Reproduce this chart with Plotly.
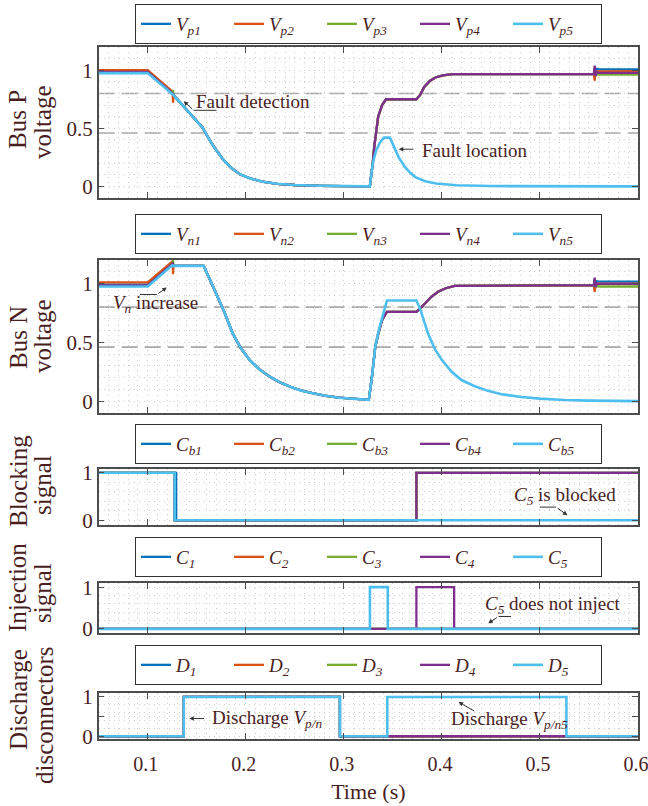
import plotly.graph_objects as go

W, H = 648, 806
TEXT = "#4a1e1e"
AXIS = "#4d4d4d"
GRID = "#cfcfcf"
SERIF = "Liberation Serif"
COLORS = ["#0072BD", "#D95319", "#77AC30", "#7E2F8E", "#4DBEEE"]

# ---------------- Bus P voltage (p.u.) ----------------
vp_pre_t = [0.050, 0.100, 0.1255]
vp1_pre = [0.990, 0.990, 0.805]
vp2_pre = [1.000, 1.000, 0.815]
vp3_pre = [0.980, 0.980, 0.800]
vp4_pre = [0.985, 0.985, 0.800]
vp5_pre = [0.975, 0.975, 0.792]

vp_det_t = [0.1258, 0.1263]
vp1_det = [0.800, 0.790]
vp2_det = [0.720, 0.785]
vp3_det = [0.830, 0.790]
vp4_det = [0.795, 0.785]
vp5_det = [0.788, 0.782]

vp_fault_t = [0.1270, 0.156, 0.163, 0.170, 0.177, 0.185, 0.194, 0.204, 0.217, 0.232, 0.250, 0.275, 0.300, 0.3265]
vp_fault = [0.780, 0.505, 0.400, 0.310, 0.230, 0.160, 0.105, 0.070, 0.040, 0.022, 0.012, 0.005, 0.002, 0.000]

vp_rec_t = [0.3295, 0.331, 0.335, 0.339, 0.343, 0.374, 0.378, 0.382, 0.388, 0.394, 0.401, 0.411, 0.5550]
vp_rec = [0.20, 0.34, 0.60, 0.70, 0.75, 0.75, 0.79, 0.856, 0.91, 0.94, 0.955, 0.967, 0.967]

vp_end_t = [0.5558, 0.5568, 0.5580, 0.5600, 0.6000]
vp1_end = [1.020, 0.985, 1.012, 1.008, 1.008]
vp2_end = [0.910, 0.990, 0.990, 0.993, 0.993]
vp3_end = [1.000, 0.950, 0.968, 0.963, 0.963]
vp4_end = [1.040, 0.950, 0.985, 0.978, 0.978]

vp5_rec_t = [0.3295, 0.333, 0.337, 0.341, 0.347, 0.352, 0.356, 0.362, 0.368, 0.373, 0.383, 0.394, 0.415, 0.450, 0.600]
vp5_rec = [0.20, 0.31, 0.38, 0.42, 0.42, 0.33, 0.25, 0.17, 0.115, 0.08, 0.045, 0.025, 0.010, 0.003, 0.000]

# ---------------- Bus N voltage (p.u.) ----------------
vn_pre_t = [0.050, 0.100, 0.1255]
vn1_pre = [0.990, 0.990, 1.175]
vn2_pre = [1.010, 1.010, 1.190]
vn3_pre = [0.980, 0.980, 1.170]
vn4_pre = [0.985, 0.985, 1.170]
vn5_pre = [0.975, 0.975, 1.160]

vn_det_t = [0.1258, 0.1263]
vn1_det = [1.170, 1.150]
vn2_det = [1.080, 1.150]
vn3_det = [1.200, 1.160]
vn4_det = [1.165, 1.150]
vn5_det = [1.140, 1.150]

vn_fault_t = [0.1275, 0.157, 0.162, 0.170, 0.178, 0.187, 0.195, 0.204, 0.214, 0.225, 0.235, 0.246, 0.257, 0.267, 0.280, 0.295, 0.310, 0.3255]
vn_fault = [1.150, 1.150, 1.060, 0.910, 0.760, 0.570, 0.450, 0.350, 0.270, 0.206, 0.160, 0.121, 0.090, 0.070, 0.048, 0.030, 0.020, 0.012]

vn_rec_t = [0.3287, 0.332, 0.335, 0.339, 0.344, 0.374, 0.378, 0.383, 0.389, 0.396, 0.404, 0.413, 0.5550]
vn_rec = [0.21, 0.46, 0.57, 0.69, 0.76, 0.76, 0.79, 0.83, 0.885, 0.93, 0.96, 0.98, 0.987]

vn_end_t = [0.5558, 0.5568, 0.5580, 0.5600, 0.6000]
vn1_end = [1.040, 1.000, 1.020, 1.017, 1.017]
vn2_end = [0.930, 1.000, 0.995, 1.000, 1.000]
vn3_end = [1.010, 0.965, 0.978, 0.975, 0.975]
vn4_end = [1.050, 0.970, 1.000, 0.997, 0.997]

vn5_rec_t = [0.3287, 0.332, 0.3355, 0.339, 0.3415, 0.344, 0.374, 0.378, 0.386, 0.393, 0.400, 0.410, 0.420, 0.433, 0.447, 0.462, 0.481, 0.500, 0.525, 0.550, 0.600]
vn5_rec = [0.21, 0.46, 0.60, 0.71, 0.79, 0.856, 0.856, 0.78, 0.57, 0.44, 0.35, 0.25, 0.18, 0.13, 0.088, 0.058, 0.036, 0.022, 0.011, 0.005, 0.001]

# ---------------- Converter blocking signals ----------------
cb_t = [0.050, 0.1275, 0.1275, 0.374, 0.374, 0.600]
cb1_t = [0.050, 0.1290, 0.1290, 0.374, 0.374, 0.600]
cb_healthy = [1, 1, 0, 0, 1, 1]
cb5_t = [0.050, 0.1275, 0.1275, 0.600]
cb5 = [1, 1, 0, 0]

# ---------------- Injection signals ----------------
c_idle_t = [0.050, 0.600]
c_idle = [0, 0]
c4_t = [0.050, 0.374, 0.374, 0.4125, 0.4125, 0.600]
c4 = [0, 0, 1, 1, 0, 0]
c5_t = [0.050, 0.3266, 0.3266, 0.3448, 0.3448, 0.600]
c5 = [0, 0, 1, 1, 0, 0]

# ---------------- Discharge disconnectors ----------------
d_t = [0.050, 0.1368, 0.1368, 0.296, 0.296, 0.600]
d_healthy = [0, 0, 1, 1, 0, 0]
d5_t = [0.050, 0.1368, 0.1368, 0.296, 0.296, 0.3443, 0.3443, 0.527, 0.527, 0.600]
d5 = [0, 0, 1, 1, 0, 0, 1, 1, 0, 0]

# Detection thresholds on the bus voltages
vp_thresholds = [0.80, 0.46]
vn_thresholds = [0.80, 0.46]

# Time axis ticks
time_ticks = [0.1, 0.2, 0.3, 0.4, 0.5, 0.6]
time_labels = ["0.1", "0.2", "0.3", "0.4", "0.5", "0.6"]


def series(*parts):
    ts, vs = [], []
    for t, v in parts:
        ts += t
        vs += v
    return ts, vs


bus_p = [
    series((vp_pre_t, vp1_pre), (vp_det_t, vp1_det), (vp_fault_t, vp_fault), (vp_rec_t, vp_rec), (vp_end_t, vp1_end)),
    series((vp_pre_t, vp2_pre), (vp_det_t, vp2_det), (vp_fault_t, vp_fault), (vp_rec_t, vp_rec), (vp_end_t, vp2_end)),
    series((vp_pre_t, vp3_pre), (vp_det_t, vp3_det), (vp_fault_t, vp_fault), (vp_rec_t, vp_rec), (vp_end_t, vp3_end)),
    series((vp_pre_t, vp4_pre), (vp_det_t, vp4_det), (vp_fault_t, vp_fault), (vp_rec_t, vp_rec), (vp_end_t, vp4_end)),
    series((vp_pre_t, vp5_pre), (vp_det_t, vp5_det), (vp_fault_t, vp_fault), (vp5_rec_t, vp5_rec)),
]
bus_n = [
    series((vn_pre_t, vn1_pre), (vn_det_t, vn1_det), (vn_fault_t, vn_fault), (vn_rec_t, vn_rec), (vn_end_t, vn1_end)),
    series((vn_pre_t, vn2_pre), (vn_det_t, vn2_det), (vn_fault_t, vn_fault), (vn_rec_t, vn_rec), (vn_end_t, vn2_end)),
    series((vn_pre_t, vn3_pre), (vn_det_t, vn3_det), (vn_fault_t, vn_fault), (vn_rec_t, vn_rec), (vn_end_t, vn3_end)),
    series((vn_pre_t, vn4_pre), (vn_det_t, vn4_det), (vn_fault_t, vn_fault), (vn_rec_t, vn_rec), (vn_end_t, vn4_end)),
    series((vn_pre_t, vn5_pre), (vn_det_t, vn5_det), (vn_fault_t, vn_fault), (vn5_rec_t, vn5_rec)),
]
blocking = [(cb1_t, cb_healthy), (cb_t, cb_healthy), (cb_t, cb_healthy), (cb_t, cb_healthy), (cb5_t, cb5)]
injection = [(c_idle_t, c_idle), (c_idle_t, c_idle), (c_idle_t, c_idle), (c4_t, c4), (c5_t, c5)]
discharge = [(d_t, d_healthy), (d_t, d_healthy), (d_t, d_healthy), (d_t, d_healthy), (d5_t, d5)]

labels = [
    ["<i>V<sub>p%d</sub></i>" % k for k in range(1, 6)],
    ["<i>V<sub>n%d</sub></i>" % k for k in range(1, 6)],
    ["<i>C<sub>b%d</sub></i>" % k for k in range(1, 6)],
    ["<i>C<sub>%d</sub></i>" % k for k in range(1, 6)],
    ["<i>D<sub>%d</sub></i>" % k for k in range(1, 6)],
]
panel_data = [bus_p, bus_n, blocking, injection, discharge]

# Layout geometry in pixels (top, bottom) of each axes box
panel_px = [(47, 198), (260, 413), (469, 525), (583, 633), (693, 739)]
legend_top_px = [4, 214, 424, 537, 645]
y_ranges = [[-0.1, 1.2], [-0.1, 1.2], [-0.1, 1.08], [-0.1, 1.1], [-0.07, 1.1]]
y_ticks = [([0, 0.5, 1], ["0", "0.5", "1"]), ([0, 0.5, 1], ["0", "0.5", "1"]),
           ([0, 1], ["0", "1"]), ([0, 1], ["0", "1"]), ([0, 0.5, 1], ["0", "", "1"])]
y_minor = [0.1, 0.1, 0.2, 0.2, 0.2]
x_dom = [98.7 / W, 638.0 / W]

fig = go.Figure()

for p, (data, names) in enumerate(zip(panel_data, labels)):
    k = p + 1
    sfx = "" if k == 1 else str(k)
    for i, ((t, v), name) in enumerate(zip(data, names)):
        fig.add_trace(go.Scatter(
            x=t, y=v, mode="lines", name=name,
            line=dict(color=COLORS[i], width=2.6 if i == 4 else 2.3),
            xaxis="x" + sfx, yaxis="y" + sfx, legend="legend" + sfx,
        ))

layout = dict(
    width=W, height=H, margin=dict(l=0, r=0, t=0, b=0, autoexpand=False),
    paper_bgcolor="white", plot_bgcolor="white", showlegend=True,
    font=dict(family=SERIF, color=TEXT),
)

grid_style = dict(showgrid=True, gridcolor=GRID, griddash="1px,4px", gridwidth=1)
for p in range(5):
    k = p + 1
    sfx = "" if k == 1 else str(k)
    top, bot = panel_px[p]
    layout["xaxis" + sfx] = dict(
        domain=x_dom, anchor="y" + sfx, range=[0.05, 0.6],
        tickmode="array", tickvals=time_ticks, ticktext=time_labels,
        showline=True, linecolor=AXIS, linewidth=1.5, mirror="allticks",
        ticks="inside", ticklen=6, tickcolor=AXIS, tickwidth=1.2,
        showticklabels=(k == 5), zeroline=False, ticklabelstandoff=6,
        ticklabeloverflow="allow", automargin=False, ticklabelshift=-2,
        tickfont=dict(family=SERIF, size=20, color=TEXT),
        minor=dict(dtick=0.01, tick0=0, **grid_style), **grid_style,
    )
    if k > 1:
        layout["xaxis" + sfx]["matches"] = "x"
    tv, tt = y_ticks[p]
    layout["yaxis" + sfx] = dict(
        domain=[1 - bot / H, 1 - top / H], anchor="x" + sfx, range=y_ranges[p],
        tickmode="array", tickvals=tv, ticktext=tt, automargin=False,
        showline=True, linecolor=AXIS, linewidth=1.5, mirror="allticks",
        ticks="inside", ticklen=6, tickcolor=AXIS, tickwidth=1.2, zeroline=False,
        tickfont=dict(family=SERIF, size=21, color=TEXT),
        minor=dict(dtick=y_minor[p], tick0=0, **grid_style), **grid_style,
    )
    layout["legend" + sfx] = dict(
        orientation="h", x=368.5 / W, xanchor="center",
        y=1 - legend_top_px[p] / H, yanchor="top",
        bgcolor="white", bordercolor="#333333", borderwidth=1,
        font=dict(family=SERIF, size=19, color=TEXT),
        entrywidth=48, entrywidthmode="pixels", itemwidth=30,
    )

layout["xaxis5"]["title"] = dict(text="Time (s)", font=dict(family=SERIF, size=22, color=TEXT), standoff=10)

fig.update_layout(**layout)

# Threshold dashed lines
for sfx, levels in (("", vp_thresholds), ("2", vn_thresholds)):
    for lv in levels:
        fig.add_shape(type="line", xref="x%s domain" % sfx, yref="y" + sfx,
                      x0=0, x1=1, y0=lv, y1=lv, layer="below",
                      line=dict(color="#a8a8a8", width=1.6, dash="16px,7px"))

# Y-axis titles, two lines each
ytitles = [
    (("Bus P", 18, 120), ("voltage", 43, 122)),
    (("Bus N", 18, 338), ("voltage", 43, 336)),
    (("Blocking", 18, 481), ("signal", 43, 485)),
    (("Injection", 17, 588), ("signal", 42, 593)),
    (("Discharge", 18, 700), ("disconnectors", 44, 716)),
]
for pair in ytitles:
    for txt, px, py in pair:
        fig.add_annotation(text=txt, xref="paper", yref="paper", x=px / W, y=1 - py / H,
                           xanchor="center", yanchor="middle", textangle=-90, showarrow=False,
                           font=dict(family=SERIF, size=25, color=TEXT))

NOTE_FONT = dict(family=SERIF, size=19, color=TEXT)
LEAD = "#333333"


def note(sfx, text, x, y, anchor="left"):
    fig.add_annotation(text=text, xref="x" + sfx, yref="y" + sfx, x=x, y=y,
                       xanchor=anchor, yanchor="middle", showarrow=False, font=NOTE_FONT)


def pointer(sfx, tail, head):
    fig.add_annotation(text="", xref="x" + sfx, yref="y" + sfx, axref="x" + sfx, ayref="y" + sfx,
                       x=head[0], y=head[1], ax=tail[0], ay=tail[1], showarrow=True,
                       arrowhead=2, arrowsize=0.9, arrowwidth=1, arrowcolor=LEAD)


def leader(sfx, a, b):
    fig.add_shape(type="line", xref="x" + sfx, yref="y" + sfx, x0=a[0], y0=a[1], x1=b[0], y1=b[1],
                  line=dict(color=LEAD, width=1))


# Bus P notes
note("", "Fault detection", 0.1475, 0.735)
leader("", (0.1469, 0.655), (0.1702, 0.655))
pointer("", (0.1469, 0.655), (0.1367, 0.733))
note("", "Fault location", 0.3775, 0.31)
pointer("", (0.3725, 0.32), (0.356, 0.32))

# Bus N note
note("2", "<i>V<sub>n</sub></i> increase", 0.1084, 0.83, anchor="center")
leader("2", (0.092, 0.907), (0.1093, 0.907))
pointer("2", (0.1093, 0.907), (0.1194, 0.966))

# Blocking note
note("3", "<i>C<sub>5</sub></i> is blocked", 0.526, 0.51, anchor="center")
leader("3", (0.4997, 0.277), (0.5165, 0.277))
pointer("3", (0.5165, 0.277), (0.528, 0.106))

# Injection note
note("4", "<i>C<sub>5</sub></i> does not inject", 0.513, 0.58, anchor="center")
leader("4", (0.4578, 0.296), (0.4705, 0.296))
pointer("4", (0.4578, 0.296), (0.4473, 0.135))

# Discharge notes
note("5", "Discharge <i>V<sub>p/n</sub></i>", 0.1633, 0.45)
pointer("5", (0.159, 0.45), (0.1424, 0.45))
note("5", "Discharge <i>V<sub>p/n5</sub></i>", 0.407, 0.42)
pointer("5", (0.4345, 0.62), (0.417, 0.87))

fig.write_html("out.html")
